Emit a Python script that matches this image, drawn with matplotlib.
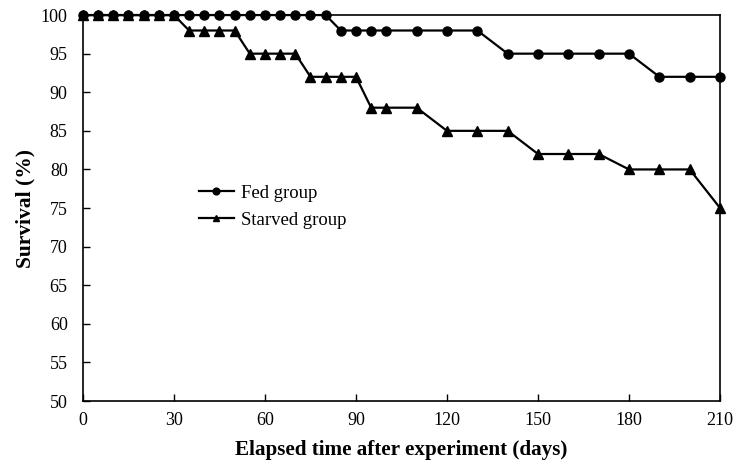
import numpy as np
import matplotlib.pyplot as plt

plt.rcParams['font.family'] = ['Liberation Serif', 'DejaVu Serif']

fed_days = [0, 5, 10, 15, 20, 25, 30, 35, 40, 45, 50, 55, 60, 65, 70, 75, 80,
            85, 90, 95, 100, 110, 120, 130, 140, 150, 160, 170, 180, 190, 200, 210]
fed_surv = [100, 100, 100, 100, 100, 100, 100, 100, 100, 100, 100, 100, 100, 100, 100, 100, 100,
            98, 98, 98, 98, 98, 98, 98, 95, 95, 95, 95, 95, 92, 92, 92]

starved_days = [0, 5, 10, 15, 20, 25, 30, 35, 40, 45, 50, 55, 60, 65, 70, 75, 80, 85, 90,
                95, 100, 110, 120, 130, 140, 150, 160, 170, 180, 190, 200, 210]
starved_surv = [100, 100, 100, 100, 100, 100, 100, 98, 98, 98, 98, 95, 95, 95, 95, 92, 92, 92, 92,
                88, 88, 88, 85, 85, 85, 82, 82, 82, 80, 80, 80, 75]

fig = plt.figure(figsize=(7.34, 4.65), dpi=100)
ax = fig.add_axes([0.113, 0.1376, 0.868, 0.830])

ax.plot(fed_days, fed_surv, color='black', lw=1.6, marker='o', ms=6.5, label='Fed group', clip_on=False, zorder=3)
ax.plot(starved_days, starved_surv, color='black', lw=1.6, marker='^', ms=6.5, label='Starved group', clip_on=False, zorder=3)

ax.set_xlim(0, 210)
ax.set_ylim(50, 100)
ax.set_xticks(np.arange(0, 211, 30))
ax.set_yticks(np.arange(50, 101, 5))
ax.tick_params(direction='in', length=5, width=1, labelsize=13)
ax.tick_params(axis='x', pad=8)
ax.tick_params(axis='y', pad=11)
for s in ax.spines.values():
    s.set_linewidth(1.2)

ax.set_xlabel('Elapsed time after experiment (days)', fontsize=15.2, fontweight='bold', labelpad=8)
ax.set_ylabel('Survival (%)', fontsize=15.5, fontweight='bold', labelpad=4)

ax.legend(loc='upper left', bbox_to_anchor=(0.155, 0.605), frameon=False, fontsize=13.5,
          handlelength=1.9, handletextpad=0.35, labelspacing=0.55, markerscale=0.75)

fig.savefig('out.png', dpi=100)
